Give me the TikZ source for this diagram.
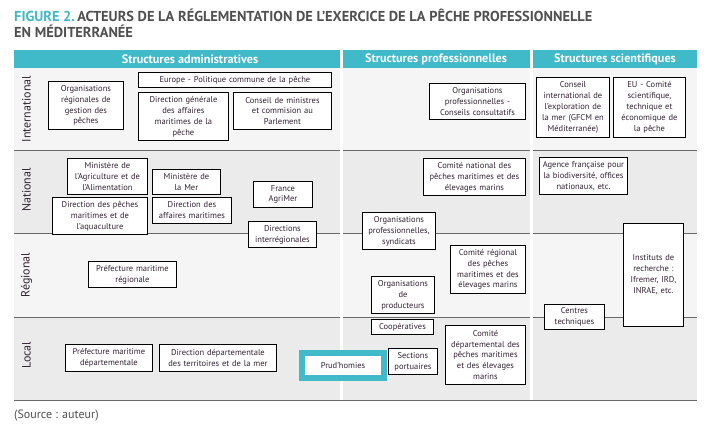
\documentclass[tikz,border=0pt]{standalone}
\usepackage{fontspec}
\setmainfont{PT Sans}
\definecolor{teal1}{RGB}{64,185,200}
\definecolor{rowA}{RGB}{245,245,245}
\definecolor{rowB}{RGB}{235,235,235}
\definecolor{linec}{RGB}{105,105,105}
\definecolor{txt}{RGB}{50,35,50}
\definecolor{titlec}{RGB}{80,80,80}
\newcommand\mybox[6]{\node[bx, minimum width=#4pt, minimum height=#5pt, text width=#4pt] (#1) at (#2,#3) {#6};}
\begin{document}
\begin{tikzpicture}[x=1pt,y=-1pt,
  bx/.style={draw=black, line width=0.9pt, fill=white, anchor=north west, inner sep=0pt, align=center, font=\fontsize{8.5}{10.9}\selectfont, text=txt},
  hdr/.style={font=\bfseries\fontsize{12.2}{13}\selectfont, text=white},
  rowlbl/.style={rotate=90, font=\fontsize{12}{13}\selectfont, text=txt},
  rowline/.style={draw=linec, line width=1pt}]
\useasboundingbox (0,0) rectangle (719,435);
\fill[white] (0,0) rectangle (719,435);
% title
\node[anchor=north west, align=left, inner sep=0pt, font=\bfseries\fontsize{14.4}{15.5}\selectfont, text=titlec] (title) at (14,9)
  {\textcolor{teal1}{FIGURE 2.}\,ACTEURS DE LA RÉGLEMENTATION DE L'EXERCICE DE LA PÊCHE PROFESSIONNELLE\\EN MÉDITERRANÉE};
% rows background
\fill[rowA] (14,68) rectangle (697,151);
\fill[rowB] (14,151) rectangle (697,234);
\fill[rowA] (14,234) rectangle (697,317);
\fill[rowB] (14,317) rectangle (697,400);
% headers
\fill[teal1] (14,50) rectangle (340,68);
\fill[teal1] (342.5,50) rectangle (530,68);
\fill[teal1] (533,50) rectangle (697,68);
\fill[white] (340,50) rectangle (342.5,400);
\fill[white] (530,50) rectangle (533,400);
\node[hdr] (h1) at (190,59) {Structures administratives};
\node[hdr] (h2) at (436,59) {Structures professionnelles};
\node[hdr] (h3) at (615,59) {Structures scientifiques};
% row lines
\foreach \yy in {151,234,317}{
  \draw[rowline] (14,\yy) -- (340,\yy);
  \draw[rowline] (342.5,\yy) -- (530,\yy);
  \draw[rowline] (533,\yy) -- (697,\yy);
}
\draw[rowline] (14,400) -- (697,400);
% row labels
\node[rowlbl] (lint) at (26.5,109) {International};
\node[rowlbl] (lnat) at (26.5,190) {National};
\node[rowlbl] (lreg) at (26.5,275) {Régional};
\node[rowlbl] (lloc) at (26.5,355) {Local};
% boxes
\mybox{orgreg}{48}{81}{75}{48}{Organisations\\régionales de\\gestion des\\pêches}
\mybox{europe}{138}{72}{193}{15}{Europe - Politique commune de la pêche}
\mybox{dgamp}{138}{92}{90}{48}{Direction générale\\des affaires\\maritimes de la\\pêche}
\mybox{conseil}{233}{92}{98}{37}{Conseil de ministres\\et commision au\\Parlement}
\mybox{orgpro}{429}{83}{96}{36}{Organisations\\professionnelles -\\Conseils consultatifs}
\mybox{ciem}{536}{77}{73}{60}{Conseil\\international de\\l'exploration de\\la mer (GFCM en\\Méditerranée)}
\mybox{eucom}{613}{77}{72}{60}{EU - Comité\\scientifique,\\technique et\\économique de\\la pêche}
\mybox{minagri}{67}{158}{80}{36}{Ministère de\\l'Agriculture et de\\l'Alimentation}
\mybox{minmer}{152}{169}{68}{25}{Ministère de\\la Mer}
\mybox{dpma}{52}{197}{95}{37}{Direction des pêches\\maritimes et de\\l'aquaculture}
\mybox{dam}{152}{197}{79}{26}{Direction des\\affaires maritimes}
\mybox{agrimer}{253}{181}{59}{26}{France\\AgriMer}
\mybox{dirm}{248}{221}{68}{26}{Directions\\interrégionales}
\mybox{premar}{88}{261}{88}{26}{Préfecture maritime\\régionale}
\mybox{cnpmem}{423}{158}{102}{37}{Comité national des\\pêches maritimes et des\\élevages marins}
\mybox{afb}{539}{157}{88}{37}{Agence française pour\\la biodiversité, offices\\nationaux, etc.}
\mybox{orgsynd}{362}{212}{73}{37}{Organisations\\professionnelles,\\syndicats}
\mybox{crpmem}{450}{245}{75}{48}{Comité régional\\des pêches\\maritimes et des\\élevages marins}
\mybox{op}{371}{276}{63}{37}{Organisations\\de\\producteurs}
\mybox{instituts}{623}{223}{60}{103}{Instituts de\\recherche :\\Ifremer, IRD,\\INRAE, etc.}
\mybox{centres}{544}{304}{60}{25}{Centres\\techniques}
\mybox{coop}{371}{319}{62}{15}{Coopératives}
\mybox{sections}{388}{348}{49}{26}{Sections\\portuaires}
\mybox{cdpmem}{445}{325}{80}{59}{Comité\\départemental des\\pêches maritimes\\et des élevages\\marins}
\mybox{premardep}{65}{344}{87}{27}{Préfecture maritime\\départementale}
\mybox{ddtm}{159}{344}{117}{27}{Direction départementale\\des territoires et de la mer}
\node[bx, draw=teal1, line width=6pt, minimum width=82pt, minimum height=25pt, text width=82pt] (prud) at (299,350) {Prud'homies};
% source
\node[anchor=west, inner sep=0pt, font=\fontsize{12}{14}\selectfont, text=titlec] (src) at (14,416) {(Source : auteur)};
\end{tikzpicture}
\end{document}
